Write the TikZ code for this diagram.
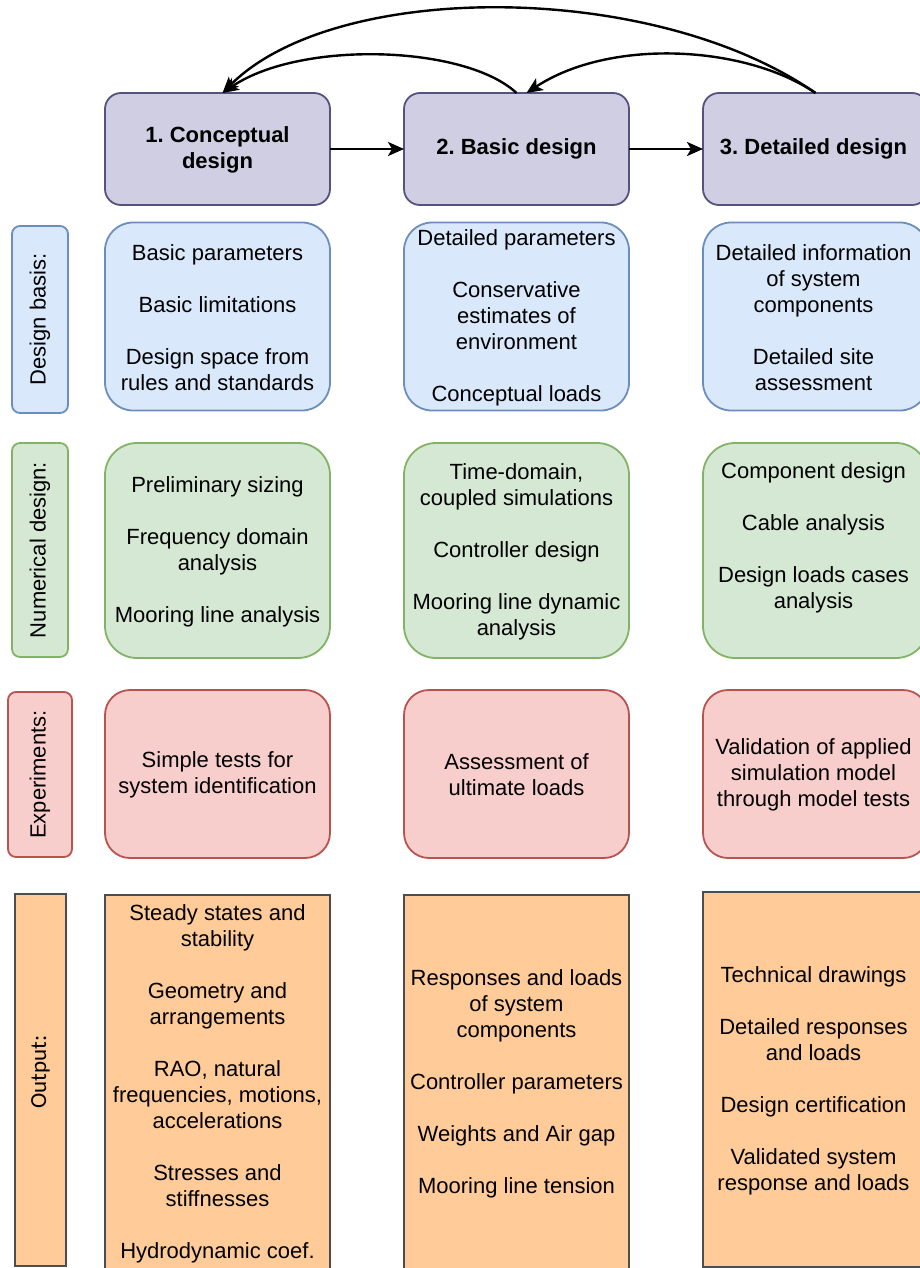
\documentclass[tikz,border=0pt]{standalone}
\usepackage{fontspec}
\setmainfont{Liberation Sans}
\newfontfamily\carlito{Carlito}
\usetikzlibrary{arrows.meta}
\definecolor{hdrfill}{HTML}{D0CEE2}\definecolor{hdrline}{HTML}{56517E}
\definecolor{bluefill}{HTML}{DAE8FC}\definecolor{blueline}{HTML}{6C8EBF}
\definecolor{greenfill}{HTML}{D5E8D4}\definecolor{greenline}{HTML}{82B366}
\definecolor{redfill}{HTML}{F8CECC}\definecolor{redline}{HTML}{B85450}
\definecolor{orfill}{HTML}{FFCC99}\definecolor{orline}{HTML}{4D4D4D}
\frenchspacing
\begin{document}
\begin{tikzpicture}[x=1pt,y=-1pt,
  box/.style={draw, line width=1.8pt, inner sep=0pt, outer sep=0pt, minimum width=225pt},
  hdr/.style={box, fill=hdrfill, draw=hdrline, rounded corners=16pt, minimum height=112pt},
  bluebox/.style={box, fill=bluefill, draw=blueline, rounded corners=28pt, minimum height=188pt},
  greenbox/.style={box, fill=greenfill, draw=greenline, rounded corners=32pt, minimum height=215pt},
  redbox/.style={box, fill=redfill, draw=redline, rounded corners=25pt, minimum height=168pt},
  orbox/.style={box, fill=orfill, draw=orline, minimum height=375pt},
  side/.style={draw, line width=1.8pt, inner sep=0pt, outer sep=0pt, rounded corners=8pt},
  txt/.style={align=center, inner sep=0pt, font=\fontsize{22}{26}\selectfont},
  hdrtxt/.style={txt, font=\fontsize{22}{26}\selectfont\bfseries},
  sidetxt/.style={txt, rotate=90},
  flow/.style={line width=2.4pt, -{Stealth[length=16pt,width=14pt,inset=4pt]}},
]
\useasboundingbox (0,0) rectangle (920,1268);
% header
\node[hdr] (b1) at (217.5,149) {};
\node[hdr] (b2) at (516.5,149) {};
\node[hdr] (b3) at (815.5,149) {};
\node[hdrtxt] (tb1) at ([yshift=-1pt]b1.center) {1. Conceptual\\design};
\node[hdrtxt] (tb2) at (b2.center) {2. Basic design};
\node[hdrtxt] (tb3) at ([xshift=-2pt]b3.center) {3. Detailed design};
% side labels
\node[side, fill=bluefill, draw=blueline, minimum width=56pt, minimum height=187pt] (sb) at (40,319.5) {};
\node[side, fill=greenfill, draw=greenline, minimum width=56pt, minimum height=214pt] (sg) at (40,550) {};
\node[side, fill=redfill, draw=redline, minimum width=64pt, minimum height=165pt] (sr) at (40,774.5) {};
\node[side, fill=orfill, draw=orline, rounded corners=0pt, minimum width=51pt, minimum height=372pt] (so) at (40.5,1080) {};
\node[sidetxt] (tsb) at (sb.center) {Design basis:};
\node[sidetxt] (tsg) at (sg.center) {Numerical design:};
\node[sidetxt] (tsr) at (sr.center) {Experiments:};
\node[sidetxt, font=\fontsize{23}{26}\selectfont\carlito] (tso) at ([yshift=8pt]so.center) {Output:};
% design basis
\node[bluebox] (d1) at (217.5,316.5) {};
\node[bluebox] (d2) at (516.5,316.5) {};
\node[bluebox] (d3) at (815.5,316.5) {};
\node[txt] (td1) at ([yshift=-1pt]d1.center) {Basic parameters\\[26pt]Basic limitations\\[26pt]Design space from\\rules and standards};
\node[txt] (td2) at ([yshift=-1pt]d2.center) {Detailed parameters\\[26pt]Conservative\\estimates of\\environment\\[26pt]Conceptual loads};
\node[txt] (td3) at ([xshift=-2pt,yshift=-1pt]d3.center) {Detailed information\\of system\\components\\[26pt]Detailed site\\assessment};
% numerical design
\node[greenbox] (n1) at (217.5,550.5) {};
\node[greenbox] (n2) at (516.5,550.5) {};
\node[greenbox] (n3) at (815.5,550.5) {};
\node[txt] (tn1) at ([yshift=-1pt]n1.center) {Preliminary sizing\\[26pt]Frequency domain\\analysis\\[26pt]Mooring line analysis};
\node[txt] (tn2) at ([yshift=-1pt]n2.center) {Time-domain,\\coupled simulations\\[26pt]Controller design\\[26pt]Mooring line dynamic\\analysis};
\node[txt] (tn3) at ([xshift=-2pt,yshift=13pt]n3.center) {Component design\\[26pt]Cable analysis\\[26pt]Design loads cases\\analysis};
% experiments
\node[redbox] (e1) at (217.5,774) {};
\node[redbox] (e2) at (516.5,774) {};
\node[redbox] (e3) at (815.5,774) {};
\node[txt] (te1) at ([yshift=-1pt]e1.center) {Simple tests for\\system identification};
\node[txt] (te2) at ([yshift=-1pt]e2.center) {Assessment of\\ultimate loads};
\node[txt] (te3) at ([xshift=-2pt,yshift=-1pt]e3.center) {Validation of applied\\simulation model\\through model tests};
% output
\node[orbox] (o1) at (217.5,1082.5) {};
\node[orbox] (o2) at (516.5,1082.5) {};
\node[orbox] (o3) at (815.5,1079.5) {};
\node[txt] (to1) at ([yshift=-1pt]o1.center) {Steady states and\\stability\\[26pt]Geometry and\\arrangements\\[26pt]RAO, natural\\frequencies, motions,\\accelerations\\[26pt]Stresses and\\stiffnesses\\[26pt]Hydrodynamic coef.};
\node[txt] (to2) at ([yshift=-1pt]o2.center) {Responses and loads\\of system\\components\\[26pt]Controller parameters\\[26pt]Weights and Air gap\\[26pt]Mooring line tension};
\node[txt] (to3) at ([xshift=-2pt,yshift=-1pt]o3.center) {Technical drawings\\[26pt]Detailed responses\\and loads\\[26pt]Design certification\\[26pt]Validated system\\response and loads};
% connectors
\draw[flow] (b1.east) -- (b2.west);
\draw[flow] (b2.east) -- (b3.west);
\draw[flow] (b3.north) .. controls (653,-20) and (335,-20) .. ([xshift=5pt]b1.north);
\draw[flow] (b2.north) .. controls (465,45) and (300,40) .. ([xshift=5pt]b1.north);
\draw[flow] (b3.north) .. controls (745,45) and (610,38) .. ([xshift=10pt]b2.north);
\end{tikzpicture}
\end{document}
